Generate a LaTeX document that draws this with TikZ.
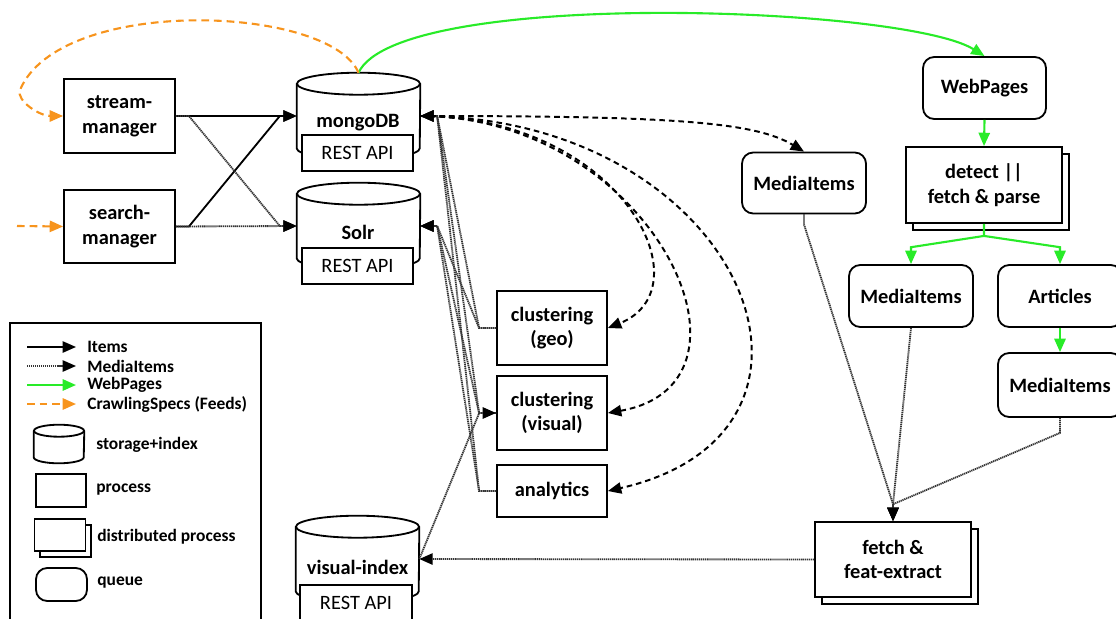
\documentclass[tikz,border=0pt]{standalone}
\usepackage{fontspec}
\setmainfont{Carlito}
\usepackage{tikz}
\usetikzlibrary{calc}
\usetikzlibrary{arrows.meta}
\usetikzlibrary{shadows}
\usepackage{xcolor}
\definecolor{webgreen}{RGB}{40,235,40}
\definecolor{crawlorange}{RGB}{247,148,29}

\begin{document}
\begin{tikzpicture}[x=0.025cm, y=-0.025cm]
    \tikzstyle{txt}=[font=\bfseries\fontsize{14.5}{17.5}\selectfont, align=center, inner sep=0pt]
    \tikzstyle{keytxt}=[font=\bfseries\fontsize{12.4}{14}\selectfont, inner sep=0pt, anchor=west]
    \tikzstyle{proc}=[txt, draw, fill=white, line width=1.3pt]
    \tikzstyle{queue}=[proc, rounded corners=8pt]
    \tikzstyle{dproc}=[proc, copy shadow={shadow xshift=5pt, shadow yshift=-5pt, draw, line width=1.3pt}]
    \tikzstyle{store}=[minimum width=3.075cm, minimum height=2.15cm, inner sep=0pt]
    \tikzstyle{cyl}=[draw, line width=1.3pt]
    \tikzstyle{api}=[draw, fill=white, line width=1.3pt, minimum width=2.775cm, minimum height=0.9cm, inner sep=0pt, font=\fontsize{14.5}{17}\selectfont]
    \tikzstyle{items}=[draw, line width=1.3pt, -{Triangle[length=9.5pt, width=8pt]}]
    \tikzstyle{media}=[draw, line width=1.3pt, black!80, dash pattern=on 0.9pt off 0.5pt, -{Triangle[length=9.5pt, width=8pt, color=black]}]
    \tikzstyle{web}=[draw, line width=1.5pt, webgreen, -{Triangle[length=9.5pt, width=8pt]}]
    \tikzstyle{crawl}=[draw, line width=1.5pt, crawlorange, dash pattern=on 5.5pt off 3.5pt, -{Triangle[length=9.5pt, width=8pt]}]
    \tikzstyle{notify}=[draw, line width=1.4pt, dash pattern=on 4pt off 2.8pt, -{Triangle[length=9.5pt, width=8pt]}]
    \useasboundingbox (0,0) rectangle (1116,618);

    % storage + index
    \node[store] (mongo) at (358.5,116) {};
    \draw[cyl] ($(mongo.north west)+(0,11)$) -- ($(mongo.south west)+(0,-11)$) arc[start angle=180, end angle=360, x radius=1.5375cm, y radius=0.275cm] -- ($(mongo.north east)+(0,11)$);
    \draw[cyl] ($(mongo.north)+(0,11)$) ellipse [x radius=1.5375cm, y radius=0.275cm];
    \node[txt] (mongolbl) at (358,123) {mongoDB};
    \node[api] (mongoapi) at (357.5,153) {REST API};

    \node[store] (solr) at (358.5,226) {};
    \draw[cyl] ($(solr.north west)+(0,11)$) -- ($(solr.south west)+(0,-11)$) arc[start angle=180, end angle=360, x radius=1.5375cm, y radius=0.275cm] -- ($(solr.north east)+(0,11)$);
    \draw[cyl] ($(solr.north)+(0,11)$) ellipse [x radius=1.5375cm, y radius=0.275cm];
    \node[txt] (solrlbl) at (358,232) {Solr};
    \node[api] (solrapi) at (357.5,266) {REST API};

    \node[store] (visidx) at (357.5,559) {};
    \draw[cyl] ($(visidx.north west)+(0,11)$) -- ($(visidx.south west)+(0,-11)$) arc[start angle=180, end angle=360, x radius=1.5375cm, y radius=0.275cm] -- ($(visidx.north east)+(0,11)$);
    \draw[cyl] ($(visidx.north)+(0,11)$) ellipse [x radius=1.5375cm, y radius=0.275cm];
    \node[txt] (visidxlbl) at (357.5,567) {visual-index};
    \node[api, minimum width=2.8cm] (visidxapi) at (356,603) {REST API};

    % processes and queues
    \node[proc, minimum width=2.775cm, minimum height=1.85cm] (streammgr) at (119.5,116) {stream-\\manager};
    \node[proc, minimum width=2.775cm, minimum height=1.825cm] (searchmgr) at (119.5,226.5) {search-\\manager};
    \node[proc, minimum width=2.75cm, minimum height=1.85cm] (geo) at (552,328) {clustering\\(geo)};
    \node[proc, minimum width=2.75cm, minimum height=1.85cm] (visual) at (552,413) {clustering\\(visual)};
    \node[proc, minimum width=2.75cm, minimum height=1.3cm] (analytics) at (552,491) {analytics};
    \node[queue, minimum width=3.1cm, minimum height=1.525cm] (mq) at (804,183) {MediaItems};
    \node[queue, minimum width=3.075cm, minimum height=1.55cm] (webpages) at (984.5,88) {WebPages};
    \node[dproc, minimum width=3.9cm, minimum height=1.9cm] (detect) at (984,185) {detect ||\\fetch \& parse};
    \node[queue, minimum width=3.1cm, minimum height=1.55cm] (mi2) at (911,296) {MediaItems};
    \node[queue, minimum width=3.1cm, minimum height=1.55cm] (articles) at (1060,296) {Articles};
    \node[queue, minimum width=3.1cm, minimum height=1.6cm] (mi3) at (1060,385) {MediaItems};
    \node[dproc, minimum width=3.9cm, minimum height=1.875cm] (fetch) at (893,559.5) {fetch \&\\feat-extract};

    % items and media items
    \draw[items] (streammgr.east) -- (mongo.west);
    \draw[items] (searchmgr.east) -- ++(13,0) -- ([xshift=-12pt]mongo.west) -- (mongo.west);
    \draw[media] (searchmgr.east) -- (solr.west);
    \draw[media] (streammgr.east) -- ++(13,0) -- ([xshift=-12pt]solr.west) -- (solr.west);

    \draw[media] (geo.west) -- ++(-17,0) -- ([xshift=12pt]mongo.east) -- (mongo.east);
    \draw[media] (geo.west) -- ++(-17,0) -- ([xshift=12pt]solr.east) -- (solr.east);
    \draw[media] (visual.west) -- ++(-17,0) -- ([xshift=12pt]mongo.east) -- (mongo.east);
    \draw[media] (visual.west) -- ++(-17,0) -- ([xshift=12pt]solr.east) -- (solr.east);
    \draw[media] (analytics.west) -- ++(-17,0) -- ([xshift=12pt]mongo.east) -- (mongo.east);
    \draw[media] (analytics.west) -- ++(-17,0) -- ([xshift=12pt]solr.east) -- (solr.east);

    \draw[media] (mq.south) -- ++(0,10) -- ([yshift=12pt]fetch.north) -- (fetch.north);
    \draw[media] (mi2.south) -- ([yshift=12pt]fetch.north) -- (fetch.north);
    \draw[media] (mi3.south) -- ++(0,15) -- ([yshift=12pt]fetch.north) -- (fetch.north);
    \draw[media] (fetch.west) -- (visidx.east);
    \draw[media] (visidx.east) -- ([xshift=-12pt]visual.west) -- (visual.west);

    % mongoDB notifications
    \draw[notify] (mongo.east) .. controls +(250,0) and +(-50,-30) .. (mq.north);
    \draw[notify] (mongo.east) .. controls +(200,0) and +(100,-40) .. (geo.east);
    \draw[notify] (mongo.east) .. controls +(230,0) and +(170,-30) .. (visual.east);
    \draw[notify] (mongo.east) .. controls +(320,0) and +(263,-60) .. (analytics.east);

    % web pages
    \draw[web] (mongo.north) .. controls +(40,-85) and +(-80,-50) .. (webpages.north);
    \draw[web] (webpages.south) -- (detect.north);
    \draw[web] (detect.south) -- ++(0,12) coordinate (split) -- ([yshift=12pt]mi2.north) -- (mi2.north);
    \draw[web] (split) -- ([yshift=12pt]articles.north) -- (articles.north);
    \draw[web] (articles.south) -- (mi3.north);

    % crawling specs
    \coordinate (crawlturn) at (20,90);
    \coordinate (searchfeed) at (17,226);
    \draw[crawl] (mongo.north) .. controls (330,5) and (60,-5) .. (crawlturn) .. controls (16,101) and (40,116) .. (streammgr.west);
    \draw[crawl] (searchfeed) -- (searchmgr.west);

    % legend
    \draw[line width=1.3pt] (10,323) rectangle (261,630);
    \coordinate (k1s) at (27,347); \coordinate (k1e) at (76,347);
    \coordinate (k2s) at (27,366); \coordinate (k2e) at (76,366);
    \coordinate (k3s) at (27,385); \coordinate (k3e) at (76,385);
    \coordinate (k4s) at (27,404); \coordinate (k4e) at (76,404);
    \draw[items] (k1s) -- (k1e);
    \draw[media] (k2s) -- (k2e);
    \draw[web] (k3s) -- (k3e);
    \draw[crawl] (k4s) -- (k4e);
    \node[keytxt] (k1) at (87,347) {Items};
    \node[keytxt] (k2) at (87,366) {MediaItems};
    \node[keytxt] (k3) at (87,385) {WebPages};
    \node[keytxt] (k4) at (87,404) {CrawlingSpecs (Feeds)};

    \node[minimum width=1.25cm, minimum height=0.95cm, inner sep=0pt] (kstore) at (59,444) {};
    \draw[cyl] ($(kstore.north west)+(0,6)$) -- ($(kstore.south west)+(0,-6)$) arc[start angle=180, end angle=360, x radius=0.625cm, y radius=0.15cm] -- ($(kstore.north east)+(0,6)$);
    \draw[cyl] ($(kstore.north)+(0,6)$) ellipse [x radius=0.625cm, y radius=0.15cm];
    \node[proc, minimum width=1.25cm, minimum height=0.825cm] (kproc) at (61,490.5) {};
    \node[proc, minimum width=1.275cm, minimum height=0.8cm, copy shadow={shadow xshift=4pt, shadow yshift=-4pt, draw, line width=1.3pt}] (kdproc) at (60,535) {};
    \node[queue, minimum width=1.275cm, minimum height=0.825cm] (kqueue) at (61.5,584.5) {};
    \node[keytxt] (k5) at (96,445) {storage+index};
    \node[keytxt] (k6) at (96,490) {process};
    \node[keytxt] (k7) at (97,537) {distributed process};
    \node[keytxt] (k8) at (97,583) {queue};
\end{tikzpicture}
\end{document}
